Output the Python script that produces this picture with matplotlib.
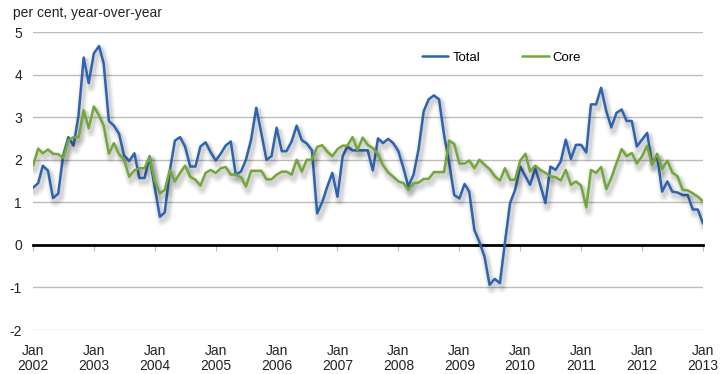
import matplotlib
matplotlib.use("Agg")
import matplotlib.pyplot as plt
import matplotlib.patheffects as pe
import pandas as pd
import numpy as np

plt.rcParams['font.family'] = ['Liberation Sans', 'DejaVu Sans']

months = pd.date_range("2002-01-01", "2013-01-01", freq="MS")

total = [
    1.34, 1.45, 1.86, 1.74, 1.10, 1.20, 2.10, 2.53, 2.33, 3.04, 4.40, 3.80,   # 2002
    4.50, 4.67, 4.26, 2.91, 2.80, 2.61, 2.10, 1.97, 2.15, 1.57, 1.57, 2.08,   # 2003
    1.35, 0.66, 0.76, 1.75, 2.45, 2.53, 2.31, 1.84, 1.84, 2.31, 2.41, 2.18,   # 2004
    1.98, 2.15, 2.33, 2.43, 1.65, 1.72, 2.00, 2.47, 3.22, 2.63, 2.00, 2.08,   # 2005
    2.75, 2.20, 2.20, 2.43, 2.80, 2.46, 2.38, 2.22, 0.74, 1.00, 1.37, 1.69,   # 2006
    1.13, 2.08, 2.31, 2.22, 2.22, 2.22, 2.22, 1.75, 2.50, 2.39, 2.49, 2.39,   # 2007
    2.20, 1.80, 1.37, 1.65, 2.24, 3.14, 3.42, 3.51, 3.42, 2.59, 1.92, 1.17,   # 2008
    1.09, 1.43, 1.25, 0.35, 0.07, -0.28, -0.94, -0.80, -0.90, 0.05, 0.98, 1.29,  # 2009
    1.84, 1.61, 1.41, 1.80, 1.41, 0.98, 1.84, 1.76, 1.96, 2.47, 2.02, 2.35,   # 2010
    2.35, 2.17, 3.30, 3.30, 3.69, 3.14, 2.76, 3.10, 3.18, 2.91, 2.91, 2.31,   # 2011
    2.47, 2.63, 1.92, 2.08, 1.25, 1.49, 1.25, 1.23, 1.17, 1.17, 0.83, 0.83,   # 2012
    0.50,                                                                     # 2013
]

core = [
    1.86, 2.26, 2.15, 2.24, 2.14, 2.13, 2.04, 2.45, 2.53, 2.53, 3.16, 2.74,   # 2002
    3.25, 3.04, 2.80, 2.14, 2.39, 2.13, 2.00, 1.60, 1.75, 1.80, 1.80, 2.07,   # 2003
    1.50, 1.21, 1.29, 1.76, 1.49, 1.69, 1.86, 1.60, 1.53, 1.39, 1.69, 1.76,   # 2004
    1.69, 1.80, 1.83, 1.65, 1.65, 1.59, 1.37, 1.74, 1.74, 1.74, 1.54, 1.54,   # 2005
    1.65, 1.72, 1.72, 1.65, 2.00, 1.72, 2.00, 2.00, 2.30, 2.34, 2.19, 2.08,   # 2006
    2.25, 2.33, 2.33, 2.53, 2.23, 2.52, 2.35, 2.27, 2.13, 1.87, 1.70, 1.60,   # 2007
    1.49, 1.45, 1.29, 1.45, 1.46, 1.55, 1.55, 1.71, 1.71, 1.71, 2.45, 2.37,   # 2008
    1.91, 1.91, 1.98, 1.80, 2.00, 1.88, 1.78, 1.61, 1.51, 1.80, 1.53, 1.53,   # 2009
    1.98, 2.14, 1.72, 1.86, 1.76, 1.69, 1.61, 1.59, 1.51, 1.76, 1.41, 1.49,   # 2010
    1.39, 0.88, 1.76, 1.69, 1.83, 1.31, 1.57, 1.92, 2.25, 2.08, 2.16, 1.91,   # 2011
    2.08, 2.33, 1.88, 2.14, 1.78, 1.98, 1.70, 1.61, 1.29, 1.28, 1.21, 1.13,   # 2012
    1.02,                                                                     # 2013
]

series_names = ["Total", "Core"]
series_colors = ["#2E63B1", "#72A83A"]
year_ticks = pd.date_range("2002-01-01", "2013-01-01", freq="YS")
tick_labels = [f"Jan\n{d.year}" for d in year_ticks]
y_ticks = list(range(-2, 6))

fig = plt.figure(figsize=(7.2, 3.74), dpi=100)
ax = fig.add_axes([33/720, 1-330/374, 670/720, 298/374])

shadow = [
    pe.SimpleLineShadow(offset=(1.5, -3), shadow_color='black', alpha=0.04, linewidth=8),
    pe.SimpleLineShadow(offset=(1.5, -3), shadow_color='black', alpha=0.06, linewidth=5.5),
    pe.SimpleLineShadow(offset=(1.5, -2.5), shadow_color='black', alpha=0.07, linewidth=3.5),
    pe.Normal(),
]

for name, vals, col in zip(series_names, [total, core], series_colors):
    ax.plot(months, vals, color=col, lw=1.8, label=name, zorder=3,
            path_effects=shadow, solid_joinstyle='round', solid_capstyle='round')

ax.set_xlim(months[0], months[-1])
ax.set_ylim(-2, 5)
ax.set_yticks(y_ticks)
ax.set_yticklabels([str(v) for v in y_ticks])
ax.yaxis.grid(True, color='#bdbdbd', lw=1.0)
ax.set_axisbelow(True)

for s in ['left', 'right', 'top']:
    ax.spines[s].set_visible(False)
ax.spines['bottom'].set_position(('data', 0))
ax.spines['bottom'].set_color('black')
ax.spines['bottom'].set_linewidth(2)
ax.spines['bottom'].set_zorder(2.5)

ax.set_xticks(year_ticks)
ax.tick_params(axis='x', direction='out', length=4, width=0.8, color='#bbbbbb',
               labelbottom=False)
ax.tick_params(axis='y', length=0, pad=8, labelsize=10, labelcolor='#222222')

sec = ax.secondary_xaxis('bottom')
sec.set_xticks(year_ticks)
sec.set_xticklabels(tick_labels)
sec.tick_params(length=0, pad=10, labelsize=10, labelcolor='#222222')
for t in sec.get_xticklabels():
    t.set_linespacing(1.1)
sec.spines['bottom'].set_visible(False)

fig.text(13/720, 1-13/374, "per cent, year-over-year", fontsize=10,
         color='#222222', ha='left', va='center')

leg = ax.legend(loc='center left', bbox_to_anchor=(0.563, 0.913), ncol=2,
                frameon=False, fontsize=9.5, handlelength=2.0,
                handletextpad=0.3, columnspacing=3.2)
for line in leg.get_lines():
    line.set_linewidth(1.8)
    line.set_path_effects([pe.Normal()])

fig.savefig("out.png", dpi=100)
